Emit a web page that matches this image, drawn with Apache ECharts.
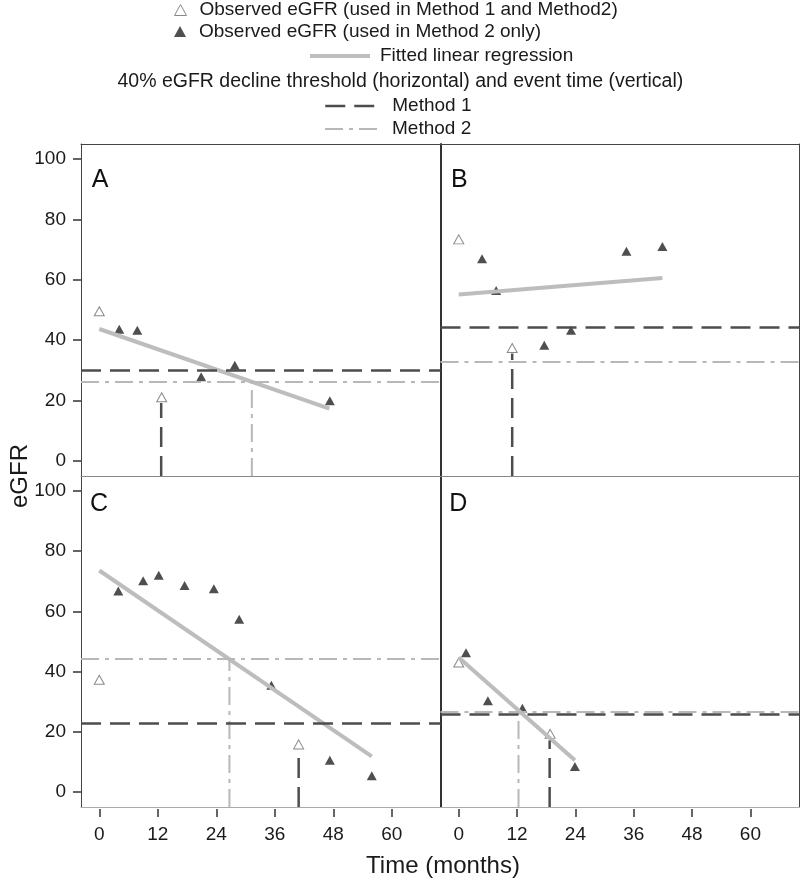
<!DOCTYPE html>
<html>
<head>
<meta charset="utf-8">
<script src="https://cdn.jsdelivr.net/npm/echarts@6/dist/echarts.min.js"></script>
<style>
  html, body { margin: 0; padding: 0; background: #fff; }
  #chart { width: 800px; height: 883px; }
</style>
</head>
<body>
<div id="chart"></div>
<script>
// panels A, B, C, D (one entry per panel)
const panelNames = ['A', 'B', 'C', 'D'];
const xTicks = [0, 12, 24, 36, 48, 60];
const yTicks = [0, 20, 40, 60, 80, 100];
const xMin = -3.75, xMax = 70;
const yMin = -5, yMax = 105;

// observed eGFR used in Method 1 and Method 2 (open triangles)
const openX = [[0, 12.8], [0, 11.0], [0, 40.9], [0, 18.8]];
const openY = [[49.6, 21.1], [73.4, 37.4], [37.3, 15.8], [43.0, 19.3]];
// observed eGFR used in Method 2 only (filled triangles)
const fillX = [
  [4.1, 7.8, 20.9, 27.8, 47.3],
  [4.8, 7.7, 17.6, 23.1, 34.5, 41.9],
  [3.9, 9.0, 12.2, 17.5, 23.5, 28.7, 35.3, 47.3, 55.9],
  [1.5, 6.0, 13.1, 23.9]
];
const fillY = [
  [43.6, 43.3, 27.9, 31.7, 19.9],
  [67.0, 56.5, 38.3, 43.3, 69.5, 71.0],
  [66.8, 70.2, 72.0, 68.6, 67.5, 57.4, 35.5, 10.5, 5.4],
  [46.3, 30.3, 27.8, 8.5]
];
// fitted linear regression end points
const fitX = [[0, 47.2], [0, 41.9], [0, 55.9], [0, 23.9]];
const fitY = [[43.7, 17.3], [55.1, 60.6], [73.6, 11.8], [44.7, 10.5]];
// 40% decline threshold and event time
const m1Level = [30.1, 44.2, 22.8, 25.9];
const m1Time = [12.7, 11.0, 40.9, 18.7];
const m1Top = [19.2, 35.6, 14.0, 17.1];
const m2Level = [26.3, 33.0, 44.4, 26.6];
const m2Time = [31.3, null, 26.7, 12.3];

const FONT = "'Liberation Sans', Arial, sans-serif";
const INK = '#1a1a1a';
const openName = 'Observed eGFR (used in Method 1 and Method2)';
const fillName = 'Observed eGFR (used in Method 2 only)';
const fitName = 'Fitted linear regression';
const m1Style = { color: '#4d4d4d', width: 2.5, type: [20, 9] };
const m2Style = { color: '#b8b8b8', width: 2, type: [18, 6, 4, 6] };

const grids = [
  { left: 81, top: 144, width: 359.5, height: 332 },
  { left: 440.5, top: 144, width: 358.5, height: 332 },
  { left: 81, top: 476, width: 359.5, height: 331 },
  { left: 440.5, top: 476, width: 358.5, height: 331 }
];

const plainX = (g, pos, color) => ({
  type: 'value', gridIndex: g, position: pos, min: xMin, max: xMax,
  axisLine: { show: true, onZero: false, lineStyle: { color: color, width: 1 } },
  axisTick: { show: false }, axisLabel: { show: false }, splitLine: { show: false }
});
const xAxes = [
  plainX(0, 'bottom', '#888'), plainX(1, 'bottom', '#888'),
  plainX(2, 'bottom', '#aaa'), plainX(3, 'bottom', '#aaa'),
  plainX(0, 'top', '#444'), plainX(1, 'top', '#444')
];
[2, 3].forEach(g => xAxes.push({
  type: 'value', gridIndex: g, position: 'bottom', offset: 2, min: xMin, max: xMax,
  axisLine: { show: false, onZero: false },
  axisTick: { show: true, customValues: xTicks, length: 8, lineStyle: { color: '#333', width: 1.5 } },
  axisLabel: { show: true, customValues: xTicks, margin: 16, fontSize: 19, color: INK, fontFamily: FONT },
  splitLine: { show: false }
}));

const yAxes = [];
[0, 1, 2, 3].forEach(g => {
  const isLeft = g % 2 === 0;
  yAxes.push({
    type: 'value', gridIndex: g, position: 'left', min: yMin, max: yMax,
    axisLine: { show: true, onZero: false, lineStyle: { color: isLeft ? '#444' : '#333', width: isLeft ? 1 : 2 } },
    axisTick: { show: isLeft, customValues: yTicks, length: 8, lineStyle: { color: '#333', width: 1.5 } },
    axisLabel: { show: isLeft, customValues: yTicks, margin: 15, fontSize: 19, color: INK, fontFamily: FONT },
    splitLine: { show: false }
  });
});
[1, 3].forEach(g => yAxes.push({
  type: 'value', gridIndex: g, position: 'right', min: yMin, max: yMax,
  axisLine: { show: true, onZero: false, lineStyle: { color: '#444', width: 1 } },
  axisTick: { show: false }, axisLabel: { show: false }, splitLine: { show: false }
}));

const zip = (xs, ys) => xs.map((x, i) => [x, ys[i]]);
const series = [];
panelNames.forEach((name, p) => {
  series.push({
    name: openName, type: 'scatter', xAxisIndex: p, yAxisIndex: p,
    symbol: 'triangle', symbolSize: [10, 9],
    itemStyle: { color: '#fff', borderColor: '#8a8a8a', borderWidth: 1, opacity: 1 },
    data: zip(openX[p], openY[p])
  });
  series.push({
    name: fillName, type: 'scatter', xAxisIndex: p, yAxisIndex: p,
    symbol: 'triangle', symbolSize: [10, 9],
    itemStyle: { color: '#4f4f4f', opacity: 1 },
    data: zip(fillX[p], fillY[p])
  });
  series.push({
    name: fitName, type: 'line', xAxisIndex: p, yAxisIndex: p,
    symbol: 'none', lineStyle: { color: '#bdbdbd', width: 4 },
    data: zip(fitX[p], fitY[p])
  });
  series.push({
    name: 'Method 1', type: 'line', xAxisIndex: p, yAxisIndex: p,
    symbol: 'none', lineStyle: m1Style,
    data: m1Time[p] == null ? [] : [[m1Time[p], yMin], [m1Time[p], m1Top[p]]],
    markLine: {
      silent: true, symbol: ['none', 'none'], label: { show: false },
      lineStyle: m1Style, data: [{ yAxis: m1Level[p] }]
    }
  });
  series.push({
    name: 'Method 2', type: 'line', xAxisIndex: p, yAxisIndex: p,
    symbol: 'none', lineStyle: m2Style,
    data: m2Time[p] == null ? [] : [[m2Time[p], yMin], [m2Time[p], m2Level[p]]],
    markLine: {
      silent: true, symbol: ['none', 'none'], label: { show: false },
      lineStyle: m2Style, data: [{ yAxis: m2Level[p] }]
    }
  });
});

const legendText = (pad) => ({ fontSize: 19, color: INK, fontFamily: FONT, lineHeight: 20, padding: [0, 0, 0, pad] });
const noSymbol = { opacity: 0, borderWidth: 0 };
const legends = [
  { data: [openName], left: 174, top: 0, itemWidth: 12, itemHeight: 11,
    itemStyle: { color: '#fff', borderColor: '#8a8a8a', borderWidth: 1 }, textStyle: legendText(8) },
  { data: [fillName], left: 174, top: 21.5, itemWidth: 12, itemHeight: 11,
    itemStyle: { color: '#4f4f4f', borderWidth: 0 }, textStyle: legendText(8) },
  { data: [fitName], left: 308, top: 46, itemWidth: 60, itemHeight: 10, itemStyle: noSymbol,
    lineStyle: { color: '#bdbdbd', width: 4, opacity: 1 }, textStyle: legendText(5) },
  { data: ['Method 1'], left: 324, top: 96, itemWidth: 53, itemHeight: 10, itemStyle: noSymbol,
    lineStyle: { color: '#4d4d4d', width: 2.5, type: [20, 9], opacity: 1 }, textStyle: legendText(9) },
  { data: ['Method 2'], left: 324, top: 119, itemWidth: 53, itemHeight: 10, itemStyle: noSymbol,
    lineStyle: { color: '#b8b8b8', width: 2, type: [18, 6, 4, 6], opacity: 1 }, textStyle: legendText(9) }
].map(l => Object.assign({ orient: 'horizontal', padding: 0, selectedMode: false }, l));

const letterPos = [[91.7, 180.5], [451, 180.5], [90, 504], [449.3, 504.5]];
const graphics = panelNames.map((t, i) => ({
  type: 'text', x: letterPos[i][0], y: letterPos[i][1], silent: true,
  style: { text: t, fontSize: 25, fontFamily: FONT, fill: '#111', align: 'left', verticalAlign: 'middle' }
}));
graphics.push({
  type: 'text', x: 117.5, y: 82, silent: true,
  style: { text: '40% eGFR decline threshold (horizontal) and event time (vertical)',
    fontSize: 19.5, fontFamily: FONT, fill: INK, align: 'left', verticalAlign: 'middle' }
});
graphics.push({
  type: 'text', x: 443, y: 866, silent: true,
  style: { text: 'Time (months)', fontSize: 24, fontFamily: FONT, fill: INK, align: 'center', verticalAlign: 'middle' }
});
graphics.push({
  type: 'text', x: 20, y: 476, rotation: Math.PI / 2, silent: true,
  style: { text: 'eGFR', fontSize: 24, fontFamily: FONT, fill: INK, align: 'center', verticalAlign: 'middle' }
});

const chart = echarts.init(document.getElementById('chart'), null, { renderer: 'canvas' });
chart.setOption({
  animation: false,
  backgroundColor: '#fff',
  textStyle: { fontFamily: FONT },
  grid: grids,
  xAxis: xAxes,
  yAxis: yAxes,
  legend: legends,
  graphic: graphics,
  series: series
});
</script>
</body>
</html>
